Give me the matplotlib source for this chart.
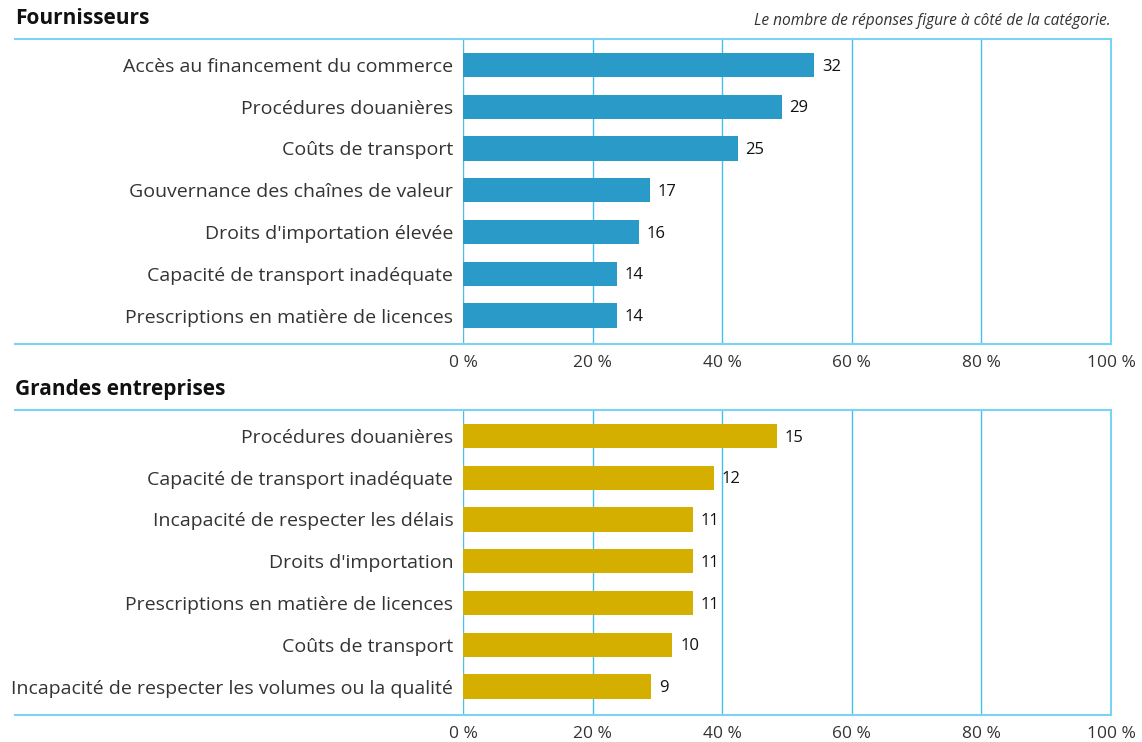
import matplotlib
matplotlib.use("Agg")
import matplotlib.pyplot as plt
from matplotlib.lines import Line2D

# Fournisseurs (suppliers)
sup_labels = ["Accès au financement du commerce", "Procédures douanières",
              "Coûts de transport", "Gouvernance des chaînes de valeur",
              "Droits d'importation élevée", "Capacité de transport inadéquate",
              "Prescriptions en matière de licences"]
sup_pct = [54.2, 49.2, 42.4, 28.8, 27.1, 23.7, 23.7]
sup_counts = [32, 29, 25, 17, 16, 14, 14]

# Grandes entreprises (lead firms)
lead_labels = ["Procédures douanières", "Capacité de transport inadéquate",
               "Incapacité de respecter les délais", "Droits d'importation",
               "Prescriptions en matière de licences", "Coûts de transport",
               "Incapacité de respecter les volumes ou la qualité"]
lead_pct = [48.4, 38.7, 35.5, 35.5, 35.5, 32.3, 29.0]
lead_counts = [15, 12, 11, 11, 11, 10, 9]

ticks = [0, 20, 40, 60, 80, 100]
tick_labels = ["0 %", "20 %", "40 %", "60 %", "80 %", "100 %"]

C_SUP = "#2A9BC8"
C_LEAD = "#D4AF00"
C_GRID = "#45C0EC"
C_FRAME = "#7AD3F5"
C_TEXT = "#333333"

plt.rcParams["font.family"] = ["Open Sans", "DejaVu Sans"]

W, H = 1142, 742
fig = plt.figure(figsize=(W / 100, H / 100), dpi=100)


def panel(top_px, labels, pct, counts, color, title):
    x0, x1 = 463, 1111
    bot_px = top_px + 305
    ax = fig.add_axes([x0 / W, 1 - bot_px / H, (x1 - x0) / W, 305 / H])
    y = list(range(len(labels)))
    ax.barh(y, pct, height=0.58, color=color, zorder=2)
    for yi, p, c in zip(y, pct, counts):
        ax.text(p + 1.2, yi + 0.04, str(c), ha="left", va="center",
                fontsize=12, color="#111111", zorder=3)
    ax.set_xlim(0, 100)
    ax.set_ylim(6.68, -0.62)
    ax.set_yticks(y)
    ax.set_yticklabels(labels, fontsize=14, color=C_TEXT)
    ax.set_xticks(ticks)
    ax.set_xticklabels(tick_labels, fontsize=12.5, color=C_TEXT)
    ax.tick_params(length=0)
    ax.tick_params(axis="y", pad=7)
    ax.tick_params(axis="x", pad=8)
    for xl in ticks:
        ax.axvline(xl, color=C_GRID, lw=1.0, zorder=1)
    for s in ["left", "top", "bottom"]:
        ax.spines[s].set_visible(False)
    ax.spines["right"].set_color(C_FRAME)
    ax.spines["right"].set_linewidth(1.5)
    # frame lines reaching to the left margin
    for ypx in (top_px, bot_px):
        fig.add_artist(Line2D([15 / W, x1 / W], [1 - ypx / H, 1 - ypx / H],
                              color=C_FRAME, lw=1.5))
    fig.text(15 / W, 1 - (top_px - 20) / H, title, ha="left", va="center",
             fontsize=15, fontweight="bold", color="#111111")
    return ax


panel(39, sup_labels, sup_pct, sup_counts, C_SUP, "Fournisseurs")
panel(410, lead_labels, lead_pct, lead_counts, C_LEAD, "Grandes entreprises")

fig.text(1111 / W, 1 - 21 / H,
         "Le nombre de réponses figure à côté de la catégorie.",
         ha="right", va="center", fontsize=11.2, style="italic", color=C_TEXT)

fig.savefig("out.png", dpi=100)
